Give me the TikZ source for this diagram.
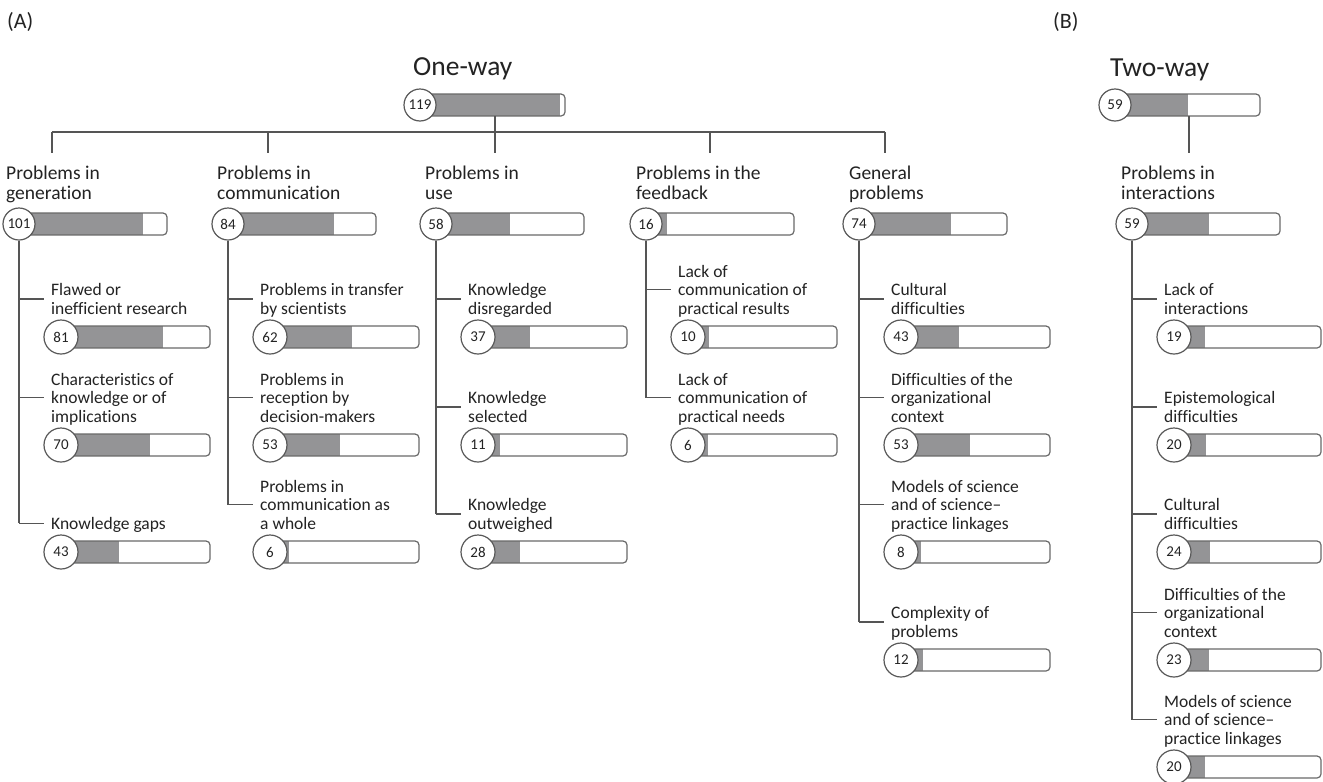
\documentclass[tikz,border=0pt]{standalone}
\usepackage{fontspec}
\setmainfont{Carlito}[Ligatures={TeX,NoCommon}]
\usetikzlibrary{positioning,calc}
\definecolor{ink}{RGB}{35,35,35}
\definecolor{wire}{RGB}{85,85,85}
\definecolor{barfill}{RGB}{148,148,150}
\definecolor{barline}{RGB}{105,105,105}
\tikzset{
    %Define style for connectors
    conn/.style={draw=wire, line width=1.2pt},
    %Define style for numbered circles
    numcirc/.style={
           circle,
           draw=barline!85!black, line width=1.2pt,
           fill=white,
           inner sep=0pt,
           text=ink,
           font=\fontsize{15}{15}\selectfont},
    topnum/.style={numcirc, minimum size=32pt},
    subnum/.style={numcirc, minimum size=34pt},
    %Define style for labels
    toplbl/.style={anchor=base west, inner sep=0pt, text=ink,
           font=\fontsize{19.5}{20}\selectfont},
    sublbl/.style={anchor=base west, inner sep=0pt, text=ink,
           font=\fontsize{17.5}{18.5}\selectfont},
    headlbl/.style={anchor=base west, inner sep=0pt, text=ink,
           font=\fontsize{27.5}{27.5}\selectfont},
    panel/.style={anchor=base west, inner sep=0pt, text=ink,
           font=\fontsize{22}{22}\selectfont}
}
% lines of a label, baseline on the last line
\newcommand{\stack}[1]{\begin{tabular}[b]{@{}l@{}}#1\end{tabular}}
% bar: name, x, y, number, grey share, length, circle style
\newcommand{\scorebar}[7]{%
  \begin{scope}
    \clip[rounded corners=4pt] (#2,#3-11) rectangle ++(#6,22);
    \fill[barfill] (#2,#3-11) rectangle ++(#6*#5,22);
  \end{scope}
  \draw[barline, line width=1.2pt, rounded corners=4pt] (#2,#3-11) rectangle ++(#6,22);
  \node[#7] (#1) at (#2,#3) {#4};
}
% branch from a column line to a label
\newcommand{\branch}[2]{%
  \coordinate (b-#2) at ([xshift=-7pt, yshift=2pt]#2.west);
  \draw[conn] (#1 |- b-#2) -- (b-#2);
}

\begin{document}
\begin{tikzpicture}[x=1pt, y=-1pt]
\fill[white] (0,0) rectangle (1323,782);
\useasboundingbox (0,0) rectangle (1323,782);

% headings
\node[panel] (pA) at (7,28) {(A)};
\node[panel] (pB) at (1053,28) {(B)};
\node[headlbl] (oneway) at (413,75) {One-way};
\node[headlbl] (twoway) at (1110,76) {Two-way};

% totals
\scorebar{tot119}{420}{105}{119}{0.965}{145}{topnum}
\scorebar{tot59}{1115}{105}{59}{0.503}{145}{topnum}

% tree of the one-way problems
\coordinate (stemA) at (495,116);
\foreach \nm/\xx in {a/52, b/268, c/495, d/710, e/885}{
  \coordinate (up-\nm) at (\xx,132);
  \coordinate (dn-\nm) at (\xx,153);
  \draw[conn] (up-\nm) -- (dn-\nm);
}
\draw[conn] (stemA) -- (up-c);
\draw[conn] (up-a) -- (up-e);
\coordinate (stemB) at (1189,116);
\coordinate (tipB) at (1189,153);
\draw[conn] (stemB) -- (tipB);

% main categories
\node[toplbl] (tGen) at (6,199) {\stack{Problems in\\generation}};
\node[toplbl] (tCom) at (217,199) {\stack{Problems in\\communication}};
\node[toplbl] (tUse) at (425,199) {\stack{Problems in\\use}};
\node[toplbl] (tFeed) at (636,199) {\stack{Problems in the\\feedback}};
\node[toplbl] (tGenl) at (849,199) {\stack{General\\problems}};
\node[toplbl] (tInter) at (1121,199) {\stack{Problems in\\interactions}};

\scorebar{g101}{19}{224}{101}{0.84}{148}{topnum}
\scorebar{g84}{228}{224}{84}{0.715}{148}{topnum}
\scorebar{g58}{436}{224}{58}{0.5}{148}{topnum}
\scorebar{g16}{646}{224}{16}{0.14}{148}{topnum}
\scorebar{g74}{859}{224}{74}{0.62}{148}{topnum}
\scorebar{g59}{1132}{224}{59}{0.517}{148}{topnum}

% sub-categories: generation
\node[sublbl] (lFlawed) at (51,314) {\stack{Flawed or\\inefficient research}};
\node[sublbl] (lChar) at (51,422) {\stack{Characteristics of\\knowledge or of\\implications}};
\node[sublbl] (lGaps) at (51,529) {\stack{Knowledge gaps}};
\scorebar{s81}{61}{337}{81}{0.687}{149}{subnum}
\scorebar{s70}{61}{445}{70}{0.60}{149}{subnum}
\scorebar{s43g}{61}{552}{43}{0.39}{149}{subnum}

% communication
\node[sublbl] (lTransfer) at (260,314) {\stack{Problems in transfer\\by scientists}};
\node[sublbl] (lRecept) at (260,422) {\stack{Problems in\\reception by\\decision-makers}};
\node[sublbl] (lWhole) at (260,529) {\stack{Problems in\\communication as\\a whole}};
\scorebar{s62}{270}{337}{62}{0.553}{149}{subnum}
\scorebar{s53r}{270}{445}{53}{0.47}{149}{subnum}
\scorebar{s6c}{270}{552}{6}{0.127}{149}{subnum}

% use
\node[sublbl] (lDisreg) at (468,314) {\stack{Knowledge\\disregarded}};
\node[sublbl] (lSelect) at (468,422) {\stack{Knowledge\\selected}};
\node[sublbl] (lOutw) at (468,529) {\stack{Knowledge\\outweighed}};
\scorebar{s37}{478}{337}{37}{0.346}{149}{subnum}
\scorebar{s11}{478}{445}{11}{0.145}{149}{subnum}
\scorebar{s28}{478}{552}{28}{0.28}{149}{subnum}

% feedback
\node[sublbl] (lResults) at (678,314) {\stack{Lack of\\communication of\\practical results}};
\node[sublbl] (lNeeds) at (678,422) {\stack{Lack of\\communication of\\practical needs}};
\scorebar{s10}{688}{337}{10}{0.142}{149}{subnum}
\scorebar{s6f}{688}{445}{6}{0.131}{149}{subnum}

% general
\node[sublbl] (lCultA) at (891,314) {\stack{Cultural\\difficulties}};
\node[sublbl] (lOrgA) at (891,422) {\stack{Difficulties of the\\organizational\\context}};
\node[sublbl] (lModA) at (891,529) {\stack{Models of science\\and of science--\\practice linkages}};
\node[sublbl] (lCompl) at (891,637) {\stack{Complexity of\\problems}};
\scorebar{s43c}{901}{337}{43}{0.387}{149}{subnum}
\scorebar{s53o}{901}{445}{53}{0.465}{149}{subnum}
\scorebar{s8}{901}{552}{8}{0.137}{149}{subnum}
\scorebar{s12}{901}{660}{12}{0.15}{149}{subnum}

% interactions
\node[sublbl] (lInter) at (1164,314) {\stack{Lack of\\interactions}};
\node[sublbl] (lEpist) at (1164,422) {\stack{Epistemological\\difficulties}};
\node[sublbl] (lCultB) at (1164,529) {\stack{Cultural\\difficulties}};
\node[sublbl] (lOrgB) at (1164,637) {\stack{Difficulties of the\\organizational\\context}};
\node[sublbl] (lModB) at (1164,744) {\stack{Models of science\\and of science--\\practice linkages}};
\scorebar{s19}{1174}{337}{19}{0.21}{147}{subnum}
\scorebar{s20e}{1174}{445}{20}{0.217}{147}{subnum}
\scorebar{s24}{1174}{552}{24}{0.242}{147}{subnum}
\scorebar{s23}{1174}{660}{23}{0.235}{147}{subnum}
\scorebar{s20m}{1174}{767}{20}{0.21}{147}{subnum}

% branches
\foreach \lb in {lFlawed, lChar, lGaps} {\branch{g101}{\lb}}
\draw[conn] (g101.south) -- (g101 |- b-lGaps);
\foreach \lb in {lTransfer, lRecept, lWhole} {\branch{g84}{\lb}}
\draw[conn] (g84.south) -- (g84 |- b-lWhole);
\foreach \lb in {lDisreg, lSelect, lOutw} {\branch{g58}{\lb}}
\draw[conn] (g58.south) -- (g58 |- b-lOutw);
\foreach \lb in {lResults, lNeeds} {\branch{g16}{\lb}}
\draw[conn] (g16.south) -- (g16 |- b-lNeeds);
\foreach \lb in {lCultA, lOrgA, lModA, lCompl} {\branch{g74}{\lb}}
\draw[conn] (g74.south) -- (g74 |- b-lCompl);
\foreach \lb in {lInter, lEpist, lCultB, lOrgB, lModB} {\branch{g59}{\lb}}
\draw[conn] (g59.south) -- (g59 |- b-lModB);
\end{tikzpicture}
\end{document}
